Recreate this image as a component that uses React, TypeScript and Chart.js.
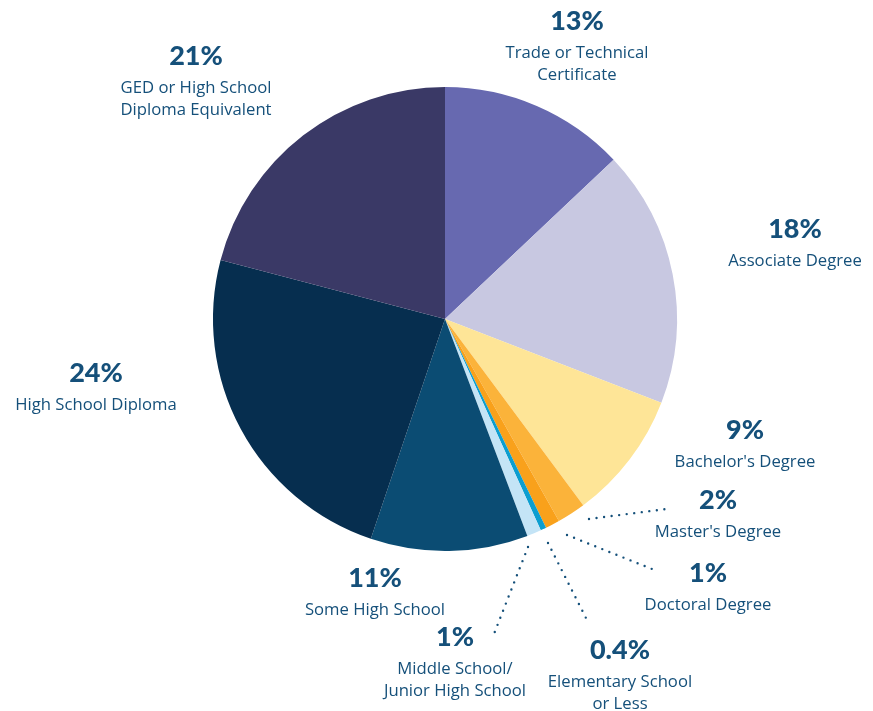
import React, { useEffect, useRef } from "react";
import { Chart, registerables } from "chart.js";

Chart.register(...registerables);

const categories = [
  "Trade or Technical Certificate",
  "Associate Degree",
  "Bachelor's Degree",
  "Master's Degree",
  "Doctoral Degree",
  "Elementary School or Less",
  "Middle School/Junior High School",
  "Some High School",
  "High School Diploma",
  "GED or High School Diploma Equivalent",
];
const values = [13, 18, 9, 2, 1, 0.4, 1, 11, 24, 21];
const percentLabels = ["13%", "18%", "9%", "2%", "1%", "0.4%", "1%", "11%", "24%", "21%"];
const labelLines = [
  ["Trade or Technical", "Certificate"],
  ["Associate Degree"],
  ["Bachelor's Degree"],
  ["Master's Degree"],
  ["Doctoral Degree"],
  ["Elementary School", "or Less"],
  ["Middle School/", "Junior High School"],
  ["Some High School"],
  ["High School Diploma"],
  ["GED or High School", "Diploma Equivalent"],
];
const colors = [
  "#6769b0",
  "#c8c8e1",
  "#fee597",
  "#fbb33a",
  "#f9a11b",
  "#0d9ed0",
  "#c4e4f6",
  "#0b4c73",
  "#062e4f",
  "#3a3966",
];

// label placement relative to pie center (layout only)
const labelOffsets: [number, number][] = [
  [132, -298],
  [350, -90],
  [300, 111],
  [273, 181],
  [263, 254],
  [175, 331],
  [10, 318],
  [-70, 259],
  [-349, 54],
  [-249, -263],
];
// leader lines relative to pie center: [x1,y1,x2,y2] or null
const leaders: (number[] | null)[] = [
  null,
  null,
  null,
  [144, 200, 221, 190],
  [122, 216, 212, 252],
  [103, 224, 143, 303],
  [83, 228, 47, 320],
  null,
  null,
  null,
];

const TEXT_COLOR = "#15507a";

const labelPlugin = {
  id: "outerLabels",
  afterDraw(chart: any) {
    const ctx = chart.ctx;
    const meta = chart.getDatasetMeta(0);
    const arc = meta.data[0];
    if (!arc) return;
    const cx = arc.x;
    const cy = arc.y;
    ctx.save();
    // leaders
    ctx.strokeStyle = TEXT_COLOR;
    ctx.lineWidth = 2.4;
    ctx.lineCap = "round";
    ctx.setLineDash([0, 7.6]);
    leaders.forEach((l) => {
      if (!l) return;
      ctx.beginPath();
      ctx.moveTo(cx + l[0], cy + l[1]);
      ctx.lineTo(cx + l[2], cy + l[3]);
      ctx.stroke();
    });
    ctx.setLineDash([]);
    ctx.fillStyle = TEXT_COLOR;
    ctx.textAlign = "center";
    ctx.textBaseline = "middle";
    percentLabels.forEach((p, i) => {
      const [dx, dy] = labelOffsets[i];
      const x = cx + dx;
      const y = cy + dy;
      ctx.font = "900 27px Lato";
      ctx.fillText(p, x, y);
      ctx.font = "400 16.7px 'Open Sans'";
      labelLines[i].forEach((line, j) => {
        ctx.fillText(line, x, y + 32 + j * 22);
      });
    });
    ctx.restore();
  },
};

export default function App() {
  const ref = useRef<HTMLCanvasElement>(null);
  useEffect(() => {
    if (!ref.current) return;
    const chart = new Chart(ref.current, {
      type: "pie",
      data: {
        labels: categories,
        datasets: [
          {
            data: values,
            backgroundColor: colors,
            borderWidth: 0,
          },
        ],
      },
      options: {
        animation: false,
        responsive: true,
        maintainAspectRatio: false,
        layout: { padding: { left: 17, right: 0, top: 79, bottom: 160 } },
        plugins: {
          legend: { display: false },
          tooltip: { enabled: false },
        },
      },
      plugins: [labelPlugin],
    });
    return () => chart.destroy();
  }, []);
  return (
    <div style={{ width: 857, height: 703, position: "relative" }}>
      <canvas ref={ref} />
    </div>
  );
}
